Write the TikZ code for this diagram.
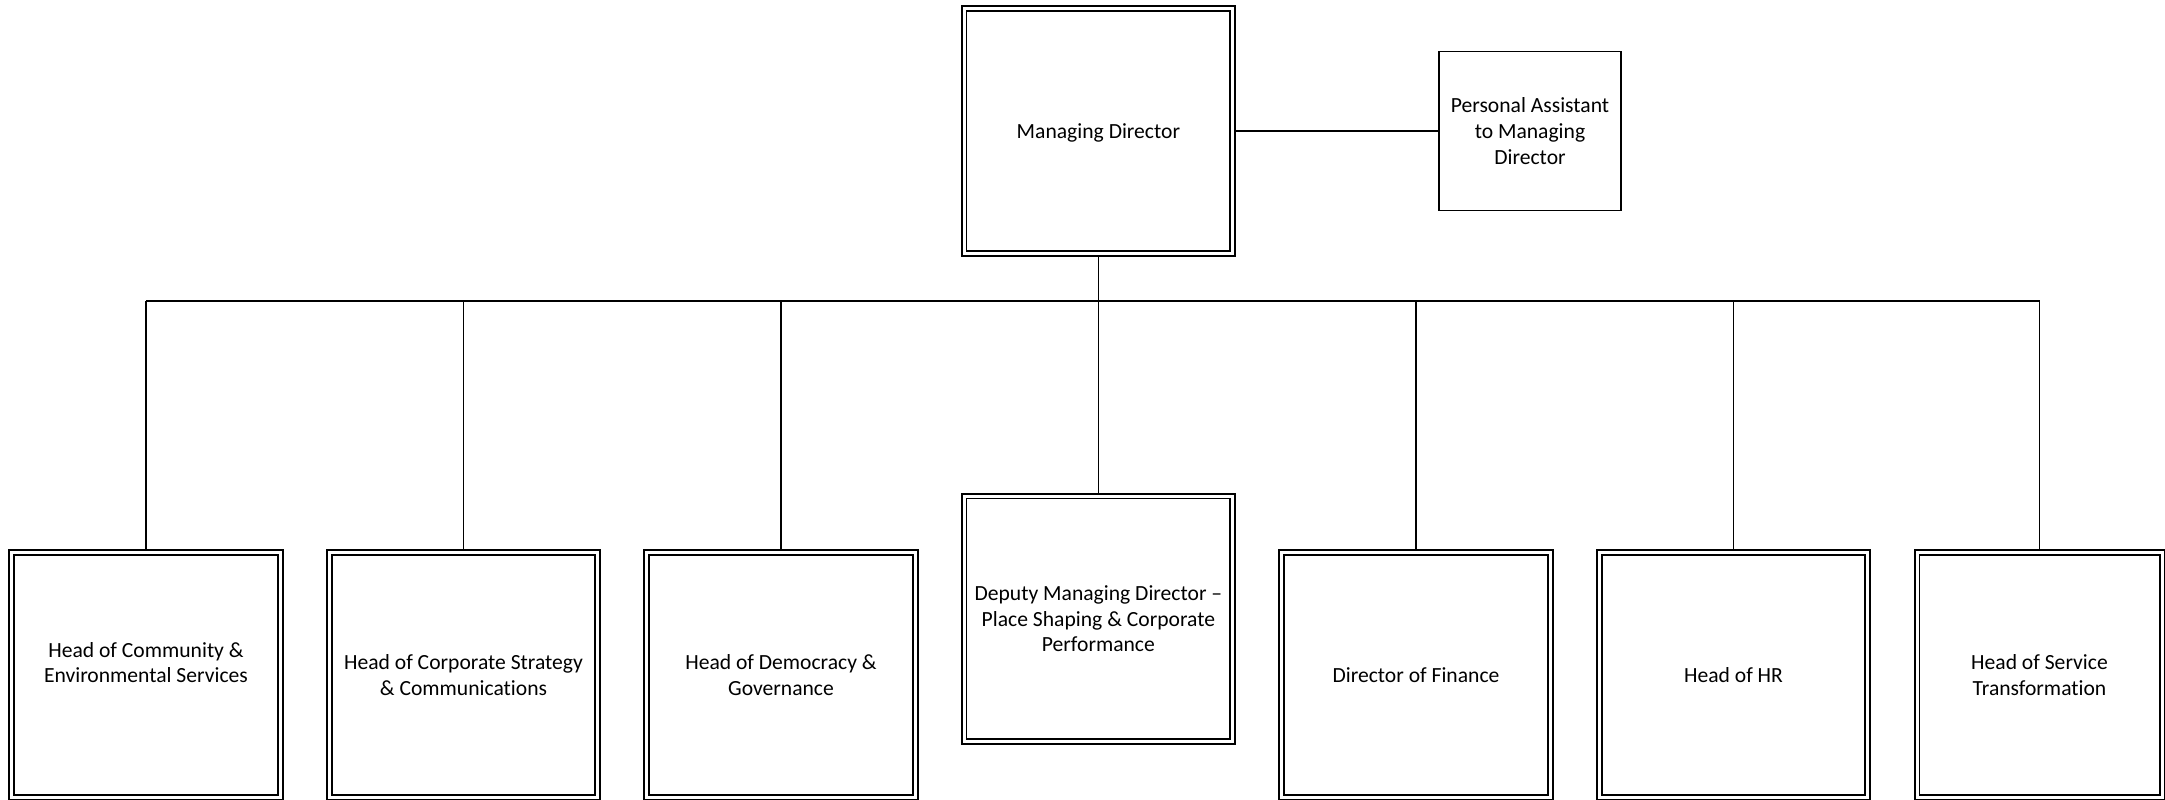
\documentclass[tikz,border=0pt]{standalone}
\usepackage{fontspec}
\setmainfont[Ligatures=NoCommon]{Carlito}
\begin{document}
\begin{tikzpicture}[x=0.5pt,y=-0.5pt,
  txt/.style={align=center, font=\fontsize{10.8}{12.8}\selectfont, inner sep=0pt, text depth=0pt},
  box/.style={txt, draw=black, line width=0.9pt, double=white, double distance=1.5pt,
    minimum width=134.25pt, minimum height=122.6pt, outer sep=1.2pt},
  narrowbox/.style={box, minimum width=122.5pt},
  pabox/.style={txt, draw=black, line width=0.9pt, minimum width=90.8pt,
    minimum height=79.5pt, outer sep=0pt},
  link/.style={draw=black, line width=0.9pt}]
\useasboundingbox (0,0) rectangle (2165,799);
\node[box] (md) at (1098.4,131) {Managing Director};
\node[pabox] (pa) at (1530,131) {Personal Assistant\\to Managing\\Director};
\coordinate (bus) at (1098.4,301);
\node[box] (c1) at (146,675.1) {Head of Community \&\\Environmental Services\\\mbox{}};
\node[box] (c2) at (463.5,675.1) {Head of Corporate Strategy\\\& Communications};
\node[box] (c3) at (781,675.1) {Head of Democracy \&\\Governance};
\node[box] (c4) at (1098.4,618.7) {Deputy Managing Director --\\Place Shaping \& Corporate\\Performance};
\node[box] (c5) at (1416,675.1) {Director of Finance};
\node[box] (c6) at (1733.5,675.1) {Head of HR};
\node[narrowbox] (c7) at (2039.5,675.1) {Head of Service\\Transformation};
\draw[link] (md.east) -- (pa.west);
\draw[link] (md.south) -- (md.south |- bus);
\draw[link] (c1.north |- bus) -- (c7.north |- bus);
\foreach \n in {c1,c2,c3,c4,c5,c6,c7}
  \draw[link] (\n.north |- bus) -- (\n.north);
\end{tikzpicture}
\end{document}
